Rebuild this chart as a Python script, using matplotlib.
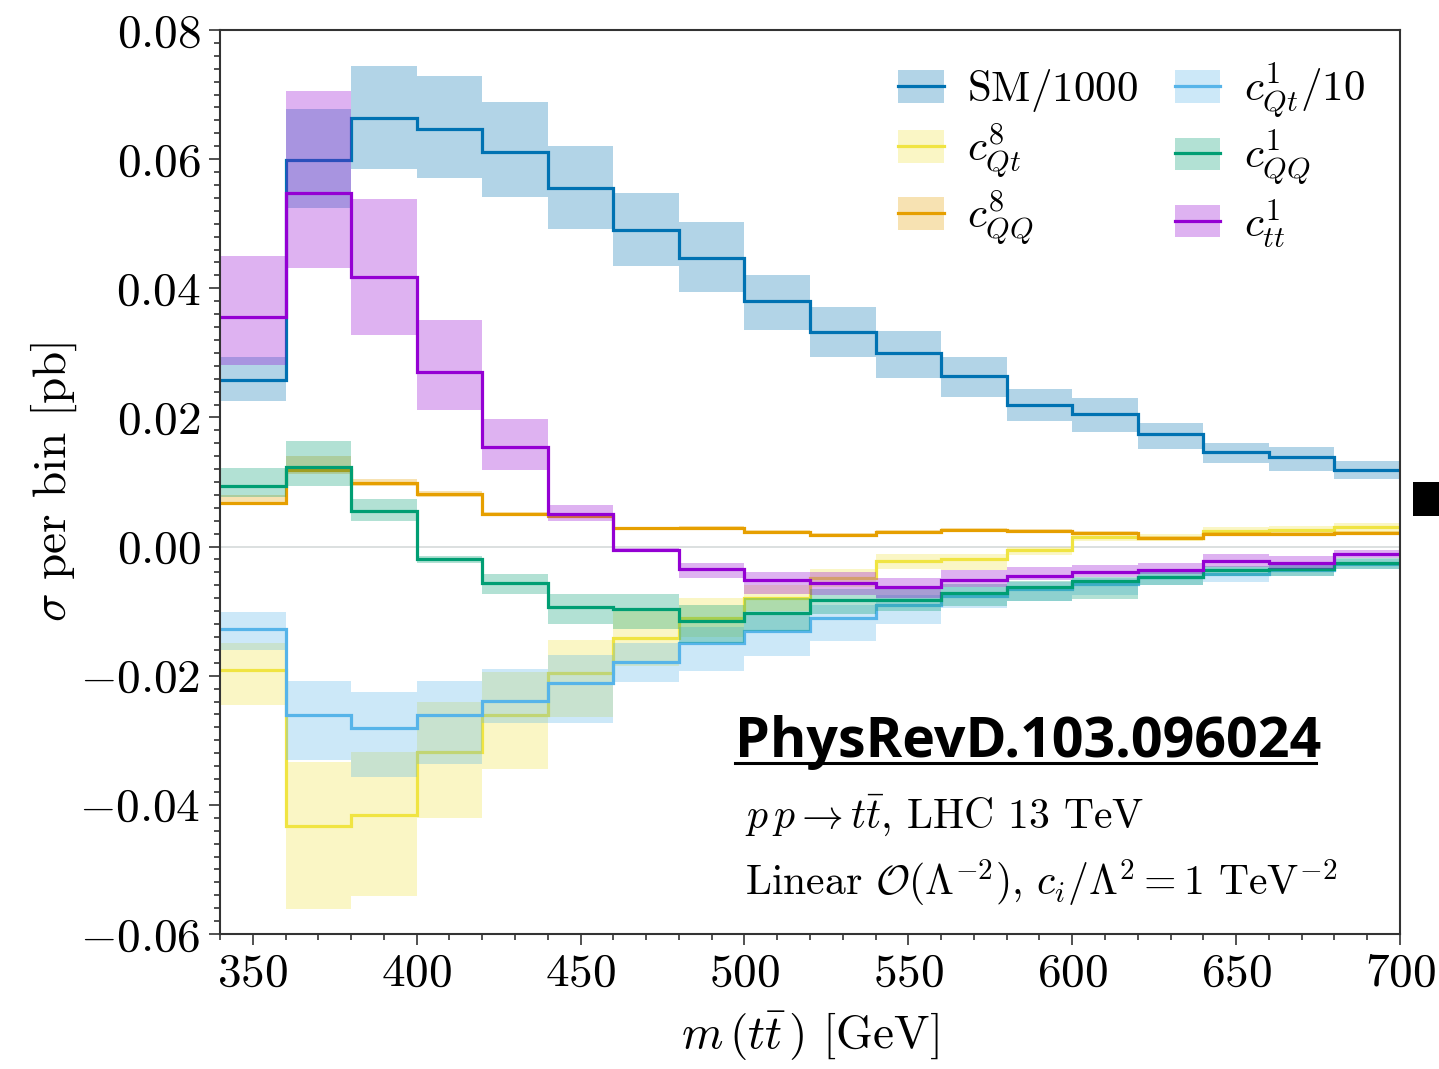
import matplotlib
matplotlib.use("Agg")
import matplotlib.pyplot as plt
import numpy as np
from matplotlib.patches import Patch, Rectangle
from matplotlib.lines import Line2D
from matplotlib.ticker import MultipleLocator, FuncFormatter

plt.rcParams['font.family'] = 'serif'
plt.rcParams['font.serif'] = ['cmr10']
plt.rcParams['mathtext.fontset'] = 'cm'
plt.rcParams['axes.unicode_minus'] = False

# ---- data ----
edges = [340, 360, 380, 400, 420, 440, 460, 480, 500, 520, 540, 560, 580, 600, 620, 640, 660, 680, 700]

sm = [0.0258, 0.0599, 0.0663, 0.0647, 0.0611, 0.0556, 0.0490, 0.0447, 0.0380, 0.0332,
      0.0300, 0.0264, 0.0220, 0.0205, 0.0174, 0.0146, 0.0138, 0.0118]
sm_lo = [0.0225, 0.0525, 0.0585, 0.0571, 0.0542, 0.0492, 0.0435, 0.0394, 0.0335, 0.0293,
         0.0261, 0.0231, 0.0194, 0.0177, 0.0151, 0.0129, 0.0117, 0.0104]
sm_hi = [0.0293, 0.0678, 0.0745, 0.0728, 0.0688, 0.0621, 0.0548, 0.0503, 0.0421, 0.0371,
         0.0334, 0.0293, 0.0244, 0.0230, 0.0192, 0.0160, 0.0154, 0.0133]

cqt8 = [-0.0191, -0.0433, -0.0415, -0.0318, -0.0261, -0.0196, -0.0142, -0.0111, -0.0080, -0.0048,
        -0.0023, -0.0020, -0.0006, 0.0015, 0.0014, 0.0024, 0.0026, 0.0030]
cqt8_lo = [-0.0245, -0.0562, -0.0541, -0.0421, -0.0344, -0.0264, -0.0185, -0.0140, -0.0100, -0.0062,
           -0.0035, -0.0037, -0.0013, 0.0009, 0.0009, 0.0018, 0.0020, 0.0023]
cqt8_hi = [-0.0149, -0.0333, -0.0318, -0.0240, -0.0194, -0.0145, -0.0100, -0.0080, -0.0060, -0.0035,
           -0.0012, -0.0011, 0.0000, 0.0021, 0.0019, 0.0030, 0.0032, 0.0037]

cqq8 = [0.0068, 0.0118, 0.0098, 0.0081, 0.0050, 0.0047, 0.0028, 0.0029, 0.0023, 0.0018,
        0.0023, 0.0025, 0.0024, 0.0021, 0.0013, 0.0020, 0.0019, 0.0021]
cqq8_lo = [0.0064, 0.0113, 0.0094, 0.0077, 0.0047, 0.0044, 0.0025, 0.0026, 0.0020, 0.0015,
           0.0020, 0.0022, 0.0021, 0.0018, 0.0010, 0.0017, 0.0016, 0.0018]
cqq8_hi = [0.0080, 0.0141, 0.0105, 0.0086, 0.0053, 0.0050, 0.0031, 0.0032, 0.0026, 0.0021,
           0.0026, 0.0028, 0.0027, 0.0024, 0.0016, 0.0023, 0.0022, 0.0024]

cqt1 = [-0.0127, -0.0261, -0.0281, -0.0261, -0.0239, -0.0211, -0.0178, -0.0150, -0.0131, -0.0111,
        -0.0090, -0.0076, -0.0066, -0.0058, -0.0047, -0.0042, -0.0036, -0.0027]
cqt1_lo = [-0.0160, -0.0331, -0.0357, -0.0337, -0.0274, -0.0274, -0.0209, -0.0193, -0.0170, -0.0147,
           -0.0120, -0.0095, -0.0085, -0.0075, -0.0060, -0.0055, -0.0045, -0.0035]
cqt1_hi = [-0.0101, -0.0208, -0.0225, -0.0208, -0.0189, -0.0168, -0.0150, -0.0125, -0.0105, -0.0090,
           -0.0075, -0.0062, -0.0055, -0.0048, -0.0038, -0.0032, -0.0028, -0.0020]

cqq1 = [0.0094, 0.0124, 0.0055, -0.0020, -0.0057, -0.0093, -0.0097, -0.0115, -0.0103, -0.0082,
        -0.0082, -0.0072, -0.0062, -0.0054, -0.0047, -0.0036, -0.0034, -0.0025]
cqq1_lo = [0.0076, 0.0094, 0.0040, -0.0025, -0.0073, -0.0120, -0.0127, -0.0150, -0.0130, -0.0105,
           -0.0100, -0.0092, -0.0085, -0.0081, -0.0060, -0.0045, -0.0045, -0.0035]
cqq1_hi = [0.0121, 0.0163, 0.0073, -0.0015, -0.0042, -0.0073, -0.0074, -0.0090, -0.0080, -0.0065,
           -0.0065, -0.0058, -0.0054, -0.0047, -0.0040, -0.0030, -0.0028, -0.0018]

ctt1 = [0.0355, 0.0548, 0.0417, 0.0270, 0.0154, 0.0050, -0.0005, -0.0034, -0.0052, -0.0056,
        -0.0062, -0.0052, -0.0045, -0.0040, -0.0036, -0.0022, -0.0026, -0.0011]
ctt1_lo = [0.0281, 0.0431, 0.0328, 0.0211, 0.0118, 0.0040, -0.0008, -0.0048, -0.0073, -0.0075,
           -0.0079, -0.0063, -0.0051, -0.0047, -0.0042, -0.0031, -0.0034, -0.0018]
ctt1_hi = [0.0450, 0.0705, 0.0538, 0.0351, 0.0197, 0.0064, -0.0002, -0.0026, -0.0040, -0.0040,
           -0.0048, -0.0037, -0.0031, -0.0028, -0.0025, -0.0012, -0.0015, -0.0005]

labels = [r'$\mathrm{SM}/1000$', r'$c_{Qt}^{8}$', r'$c_{QQ}^{8}$',
          r'$c_{Qt}^{1}/10$', r'$c_{QQ}^{1}$', r'$c_{tt}^{1}$']
colors = ['#0072B2', '#F0E442', '#E69F00', '#56B4E9', '#009E73', '#9400D3']
series = [(sm, sm_lo, sm_hi), (cqt8, cqt8_lo, cqt8_hi), (cqq8, cqq8_lo, cqq8_hi),
          (cqt1, cqt1_lo, cqt1_hi), (cqq1, cqq1_lo, cqq1_hi), (ctt1, ctt1_lo, ctt1_hi)]

fig = plt.figure(figsize=(14.39, 10.69), dpi=100)
ax = fig.add_axes([220/1439, 1-934/1069, 1180/1439, 904/1069])

ax.axhline(0, color='#d5dada', lw=1.2, zorder=0)

handles = []
for (c, lo, hi), col, lab in zip(series, colors, labels):
    ax.stairs(hi, edges, baseline=lo, fill=True, color=col, alpha=0.3, lw=0)
    ax.stairs(c, edges, baseline=None, color=col, lw=2.3)
    handles.append((Patch(facecolor=col, alpha=0.3, edgecolor='none'),
                    Line2D([], [], color=col, lw=2.3)))

ax.set_xlim(340, 700)
ax.set_ylim(-0.06, 0.08)
ax.xaxis.set_major_locator(MultipleLocator(50))
ax.xaxis.set_minor_locator(MultipleLocator(10))
ax.yaxis.set_major_locator(MultipleLocator(0.02))
ax.yaxis.set_minor_locator(MultipleLocator(0.002))
ax.xaxis.set_major_formatter(FuncFormatter(lambda v, p: r'$%d$' % round(v)))
ax.yaxis.set_major_formatter(FuncFormatter(lambda v, p: r'$%.2f$' % (0.0 if abs(v) < 1e-9 else v)))
ax.tick_params(which='both', direction='out', top=False, right=False, labelsize=34, width=1.1,
               color='#222222')
ax.tick_params(which='major', length=8, pad=6)
ax.tick_params(which='minor', length=4)
for s in ax.spines.values():
    s.set_linewidth(1.5)
    s.set_color('#333333')

ax.set_xlabel(r'$m\,(t\bar{t}\,)$ [GeV]', fontsize=34, labelpad=10)
ax.set_ylabel(r'$\sigma$ per bin [pb]', fontsize=34, labelpad=0)

leg = ax.legend(handles, labels, ncol=2, loc='upper right', frameon=False, fontsize=31,
                handlelength=1.05, handleheight=0.78, handletextpad=0.55, columnspacing=0.85,
                labelspacing=0.17, bbox_to_anchor=(1.003, 1.008))

ax.text(0.445, 0.117, r'$p\,p \to t\bar{t}$, LHC 13 TeV', transform=ax.transAxes,
        fontsize=30, va='baseline', ha='left')
ax.text(0.445, 0.042, r'Linear $\mathcal{O}(\Lambda^{-2})$, $c_i/\Lambda^2 = 1$ TeV$^{-2}$',
        transform=ax.transAxes, fontsize=30, va='baseline', ha='left')

# watermark-style reference label
fig.text(735/1439, 1-757/1069, 'PhysRevD.103.096024', fontsize=40, fontweight='bold',
         family='Open Sans', ha='left', va='baseline', color='black')
fig.add_artist(Line2D([735/1439, 1316/1439], [1-763/1069, 1-763/1069], color='black', lw=2.2,
                      transform=fig.transFigure))
fig.patches.append(Rectangle((1413/1439, 1-516/1069), 26/1439, 34/1069, transform=fig.transFigure,
                             facecolor='black', edgecolor='none'))

fig.savefig('out.png', dpi=100)
